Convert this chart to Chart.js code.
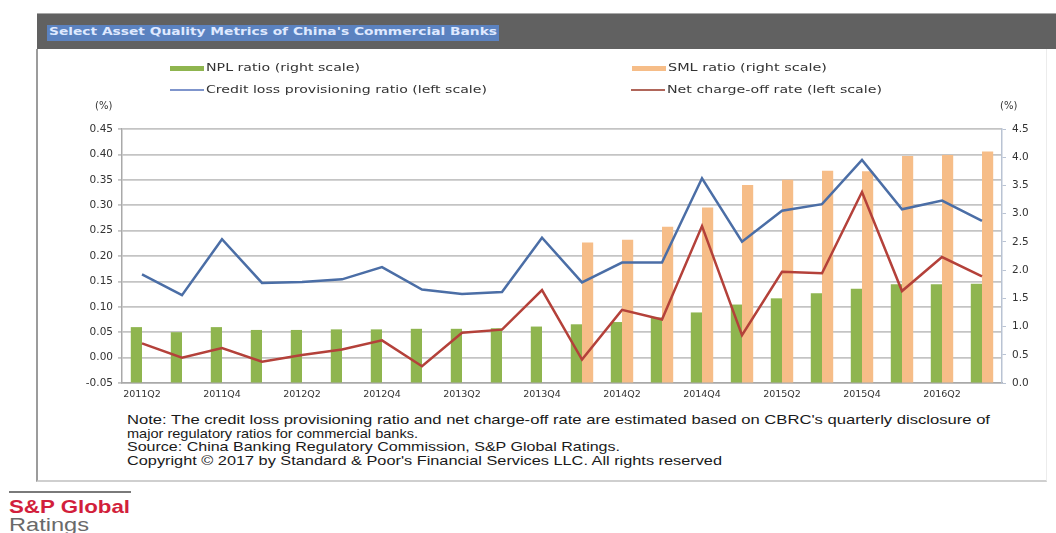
<!DOCTYPE html>
<html>
<head>
<meta charset="utf-8">
<script src="https://cdn.jsdelivr.net/npm/chart.js@4/dist/chart.umd.min.js"></script>
<style>
  html, body { margin: 0; padding: 0; background: #ffffff; }
  body { width: 1056px; height: 533px; position: relative; overflow: hidden; font-family: "Liberation Sans", Arial, sans-serif; }
  .abs { position: absolute; }
  .fit { display: inline-block; white-space: nowrap; transform-origin: 0 50%; }
  #titlebar { left: 37px; top: 13px; width: 1019px; height: 36px; background: #616161; border-top: 1px solid #a8a8a8; box-sizing: border-box; }
  #titlehl { left: 47px; top: 25px; width: 452px; height: 16px; background: #5b82c0; }
  #titletext { left: 49px; top: 25px; height: 16px; line-height: 16px; font: bold 11px "DejaVu Sans", sans-serif; color: #dfe9ff; }
  #box { left: 36px; top: 49px; width: 1011px; height: 433px; border-left: 2px solid #9c9c9c; border-bottom: 2px solid #cfcfcf; border-right: 1px solid #ececec; box-sizing: border-box; }
  #chartwrap { left: 0; top: 0; width: 1056px; height: 410px; }
  .legrow { height: 14px; line-height: 14px; font: 11px "DejaVu Sans", sans-serif; color: #333; }
  .swatch { position: absolute; }
  .unit { font: 10px "DejaVu Sans", sans-serif; color: #333; }
  .note { font: 13px "Liberation Sans", Arial, sans-serif; color: #1a1a1a; height: 14px; line-height: 14px; }
  #logoline { left: 9px; top: 491px; width: 122px; height: 2px; background: #7a7a7a; }
  #logo1 { left: 9px; top: 497px; font: bold 19px "Liberation Sans", Arial, sans-serif; color: #d21f3c; line-height: 20px; }
  #logo2 { left: 9px; top: 515px; font: 18px "Liberation Sans", Arial, sans-serif; color: #6a6a6a; line-height: 20px; }
</style>
</head>
<body>
<div id="titlebar" class="abs"></div>
<div id="titlehl" class="abs"></div>
<div id="titletext" class="abs"><span class="fit" data-w="448">Select Asset Quality Metrics of China's Commercial Banks</span></div>
<div id="box" class="abs"></div>
<div id="chartwrap" class="abs"><canvas id="chart" width="1056" height="410"></canvas></div>
<div id="legend"></div>
<div class="abs unit" style="left:95px; top:100px;">(%)</div>
<div class="abs unit" style="left:1000px; top:100px;">(%)</div>
<div id="notes"></div>
<div id="logoline" class="abs"></div>
<div id="logo1" class="abs"><span class="fit" data-w="121">S&amp;P Global</span></div>
<div id="logo2" class="abs"><span class="fit" data-w="80">Ratings</span></div>

<script>
// Quarterly asset quality metrics, China's commercial banks
const quarters = [
  '2011Q2','2011Q3','2011Q4','2012Q1','2012Q2','2012Q3','2012Q4','2013Q1','2013Q2','2013Q3','2013Q4',
  '2014Q1','2014Q2','2014Q3','2014Q4','2015Q1','2015Q2','2015Q3','2015Q4','2016Q1','2016Q2','2016Q3'
];
// NPL ratio (%), right scale
const nplRatio = [0.99, 0.90, 0.99, 0.94, 0.94, 0.95, 0.95, 0.96, 0.96, 0.97, 1.00,
                  1.04, 1.08, 1.16, 1.25, 1.39, 1.50, 1.59, 1.67, 1.75, 1.75, 1.76];
// Special-mention loan ratio (%), right scale; reported from 2014Q1
const smlRatio = [null, null, null, null, null, null, null, null, null, null, null,
                  2.49, 2.54, 2.77, 3.11, 3.51, 3.60, 3.76, 3.75, 4.02, 4.04, 4.10];
// Credit loss provisioning ratio (%), left scale
const creditLossProvisioning = [0.164, 0.123, 0.233, 0.147, 0.149, 0.154, 0.178, 0.134, 0.125, 0.129, 0.236,
                                0.148, 0.187, 0.187, 0.353, 0.228, 0.289, 0.302, 0.389, 0.292, 0.309, 0.269];
// Net charge-off rate (%), left scale
const netChargeOff = [0.028, 0.000, 0.019, -0.008, 0.005, 0.016, 0.034, -0.017, 0.049, 0.055, 0.133,
                      -0.004, 0.094, 0.075, 0.259, 0.044, 0.169, 0.166, 0.326, 0.131, 0.198, 0.160];

const leftTicks = [-0.05, 0.00, 0.05, 0.10, 0.15, 0.20, 0.25, 0.30, 0.35, 0.40, 0.45];
const rightTicks = [0.0, 0.5, 1.0, 1.5, 2.0, 2.5, 3.0, 3.5, 4.0, 4.5];

const seriesNames = ['NPL ratio (right scale)', 'SML ratio (right scale)',
                     'Credit loss provisioning ratio (left scale)', 'Net charge-off rate (left scale)'];

const COLORS = { npl: '#8fb54f', sml: '#f6bd88', clp: '#4b6ea6', nco: '#b4413a' };

// Legend (two rows, two columns)
const legendItems = [
  { name: seriesNames[0], color: COLORS.npl, x: 170, y: 68, thick: 5, w: 154 },
  { name: seriesNames[2], color: '#7f95cc', x: 170, y: 90, thick: 2, w: 281 },
  { name: seriesNames[1], color: COLORS.sml, x: 632, y: 68, thick: 5, w: 159 },
  { name: seriesNames[3], color: '#b0665a', x: 631, y: 90, thick: 2, w: 215 }
];
const legend = document.getElementById('legend');
legendItems.forEach(it => {
  const sw = document.createElement('div');
  sw.className = 'swatch';
  sw.style.cssText = `left:${it.x}px; top:${it.y - it.thick / 2}px; width:34px; height:${it.thick}px; background:${it.color};`;
  legend.appendChild(sw);
  const tx = document.createElement('div');
  tx.className = 'abs legrow';
  tx.style.left = (it.x + 36) + 'px';
  tx.style.top = (it.y - 7) + 'px';
  tx.innerHTML = `<span class="fit" data-w="${it.w}"></span>`;
  tx.firstChild.textContent = it.name;
  legend.appendChild(tx);
});

// Footnotes
const noteLines = [
  { text: "Note: The credit loss provisioning ratio and net charge-off rate are estimated based on CBRC's quarterly disclosure of", w: 863 },
  { text: "major regulatory ratios for commercial banks.", w: 291 },
  { text: "Source: China Banking Regulatory Commission, S&P Global Ratings.", w: 493 },
  { text: "Copyright \u00A9  2017 by Standard & Poor's Financial Services LLC.  All rights reserved", w: 595 }
];
const notes = document.getElementById('notes');
noteLines.forEach((ln, i) => {
  const d = document.createElement('div');
  d.className = 'abs note';
  d.style.left = '127px';
  d.style.top = (413 + i * 13.6) + 'px';
  d.innerHTML = `<span class="fit" data-w="${ln.w}"></span>`;
  d.firstChild.textContent = ln.text;
  notes.appendChild(d);
});

// Stretch text runs to their laid-out widths
document.querySelectorAll('.fit').forEach(el => {
  const w = el.getBoundingClientRect().width;
  if (w > 0) el.style.transform = `scaleX(${el.dataset.w / w})`;
});

const xFont = { family: '"DejaVu Sans", sans-serif', size: 9.5 };
const yFont = { family: '"DejaVu Sans", sans-serif', size: 10.5 };

new Chart(document.getElementById('chart'), {
  data: {
    labels: quarters,
    datasets: [
      { type: 'line', label: seriesNames[2], data: creditLossProvisioning, yAxisID: 'y',
        borderColor: COLORS.clp, borderWidth: 2.5, pointRadius: 0, tension: 0, order: 0 },
      { type: 'line', label: seriesNames[3], data: netChargeOff, yAxisID: 'y',
        borderColor: COLORS.nco, borderWidth: 2.5, pointRadius: 0, tension: 0, order: 0 },
      { type: 'bar', label: seriesNames[0], data: nplRatio, yAxisID: 'y2',
        backgroundColor: COLORS.npl, categoryPercentage: 0.56, barPercentage: 1.0, order: 1 },
      { type: 'bar', label: seriesNames[1], data: smlRatio, yAxisID: 'y2',
        backgroundColor: COLORS.sml, categoryPercentage: 0.56, barPercentage: 1.0, order: 1 }
    ]
  },
  options: {
    responsive: false,
    animation: false,
    devicePixelRatio: 1,
    layout: { padding: { left: 60, right: 20, top: 129, bottom: 0 } },
    plugins: { legend: { display: false }, tooltip: { enabled: false } },
    scales: {
      x: {
        type: 'category',
        offset: true,
        grid: { display: false, drawTicks: false },
        border: { color: '#a9a9a9', width: 1.5 },
        ticks: {
          autoSkip: false, maxRotation: 0, padding: 6, color: '#333', font: xFont,
          callback: (v, i) => (i % 2 === 0 ? quarters[i] : '')
        },
        afterFit: s => { s.height = 27; }
      },
      y: {
        position: 'left',
        min: leftTicks[0], max: leftTicks[leftTicks.length - 1],
        afterBuildTicks: s => { s.ticks = leftTicks.map(v => ({ value: v })); },
        grid: { color: '#c4c4c4', lineWidth: 1.8, tickLength: 4 },
        border: { color: '#a9a9a9', width: 1.5 },
        ticks: { padding: 5, color: '#333', font: yFont, callback: v => Number(v).toFixed(2) },
        afterFit: s => { s.width = 62; }
      },
      y2: {
        position: 'right',
        min: rightTicks[0], max: rightTicks[rightTicks.length - 1],
        afterBuildTicks: s => { s.ticks = rightTicks.map(v => ({ value: v })); },
        grid: { drawOnChartArea: false, color: '#b9c3d3', tickLength: 4 },
        border: { color: '#b9c3d3', width: 1.5 },
        ticks: { padding: 6, color: '#333', font: yFont, callback: v => Number(v).toFixed(1) },
        afterFit: s => { s.width = 34; }
      }
    }
  }
});
</script>
</body>
</html>
